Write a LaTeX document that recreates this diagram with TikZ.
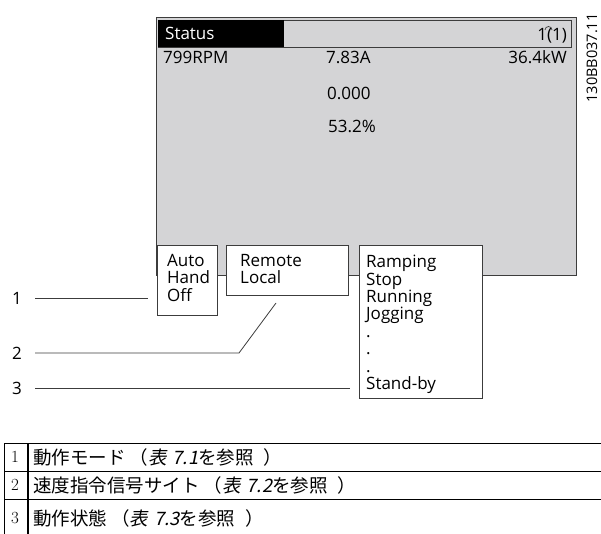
\documentclass[tikz,border=0pt]{standalone}
\usepackage{fontspec}
\usepackage{xcolor}
\newfontfamily\lcdfont{Open Sans}
\newfontfamily\jpfont{Noto Sans CJK JP}
\newfontfamily\jpslant[FakeSlant=0.2]{Noto Sans CJK JP}
\usetikzlibrary{positioning}
\definecolor{lcdgray}{RGB}{212,212,214}
\definecolor{linegray}{RGB}{60,60,60}
\newcommand{\tabref}[1]{{\jpslant 表\hspace{6pt}#1}}

\begin{document}
\begin{tikzpicture}[
    x=1pt, y=-1pt,
    lcd/.style={font=\lcdfont\fontsize{17}{17.4}\selectfont, inner sep=0pt},
    menubox/.style={draw=linegray, fill=white, line width=0.8pt, anchor=north west, inner sep=0pt},
    item/.style={lcd, anchor=north west, align=left},
    leader/.style={draw=linegray, line width=0.8pt},
    callout/.style={lcd, anchor=east, inner xsep=13pt, inner ysep=0pt},
    rowtext/.style={font=\jpfont\fontsize{18.5}{18.5}\selectfont, anchor=west, inner sep=0pt},
    rownum/.style={font=\fontsize{17}{17}\selectfont, inner sep=0pt}
]
\useasboundingbox (0,0) rectangle (601,534);

% Display panel
\node[menubox, fill=lcdgray, minimum width=420pt, minimum height=258pt] (lcd) at (156,17) {};

% Status bar
\node[menubox, fill=lcdgray, minimum width=413pt, minimum height=27pt] (bar) at (158,20) {};
\node[fill=black, anchor=north west, inner sep=0pt, minimum width=126pt, minimum height=27pt] (statusbg) at (158,20) {};
\node[lcd, text=white, anchor=base west] (status) at (165,40) {Status};
\node[lcd, anchor=base east] (page) at (567,41) {1(1)};
\draw[linegray, line width=0.7pt] (545,30) arc[start angle=180, end angle=360, radius=3.5];

% Readouts
\node[lcd, anchor=base west] (rpm) at (163,64) {799RPM};
\node[lcd, anchor=base west] (amps) at (326,64) {7.83A};
\node[lcd, anchor=base east] (power) at (567,64) {36.4kW};
\node[lcd, anchor=base west] (ref) at (327,100) {0.000};
\node[lcd, anchor=base west] (load) at (328,133) {53.2\%};

% Drawing number
\node[font=\lcdfont\fontsize{14.5}{14.5}\selectfont, rotate=90, inner sep=0pt] (code) at (592,58) {130BB037.11};

% Menu boxes
\node[menubox, minimum width=60pt, minimum height=70pt] (mode) at (157,245) {};
\node[menubox, minimum width=122pt, minimum height=50pt] (site) at (226,245) {};
\node[menubox, minimum width=123pt, minimum height=153pt] (state) at (359,245) {};

\node[item] (modetext) at (167,254) {Auto\\Hand\\Off};
\node[item] (sitetext) at (240,254) {Remote\\Local};
\node[item] (statetext) at (366,255) {Ramping\\Stop\\Running\\Jogging\\.\\.\\.\\Stand-by};

% Callouts
\node[callout] (c1) at (35,298) {1};
\node[callout] (c2) at (35,353) {2};
\node[callout] (c3) at (35,388) {3};
\coordinate (tip1) at (148,298);
\coordinate (bend2) at (239,353);
\coordinate (tip2) at (276,303);
\coordinate (tip3) at (350,388);

\draw[leader] (c1) -- (tip1);
\draw[leader] (c2) -- (bend2) -- (tip2);
\draw[leader] (c3) -- (tip3);

% Legend table
\draw[line width=0.8pt] (4,443) -- (601,443);
\draw[line width=0.8pt] (4,471) -- (601,471);
\draw[line width=0.8pt] (4,499) -- (601,499);
\draw[line width=0.8pt] (4,443) -- (4,534);
\draw[line width=1.4pt] (28,443) -- (28,534);

\node[rownum] (k1) at (15,457) {1};
\node[rownum] (k2) at (15,485) {2};
\node[rownum] (k3) at (15,518) {3};
\node[rowtext] (r1) at (33,457) {動作モード\hspace{4pt}（\tabref{7.1}を参照\hspace{10pt}）};
\node[rowtext] (r2) at (33,485) {速度指令信号サイト\hspace{4pt}（\tabref{7.2}を参照\hspace{10pt}）};
\node[rowtext] (r3) at (33,518) {動作状態\hspace{4pt}（\tabref{7.3}を参照\hspace{10pt}）};

\end{tikzpicture}
\end{document}
